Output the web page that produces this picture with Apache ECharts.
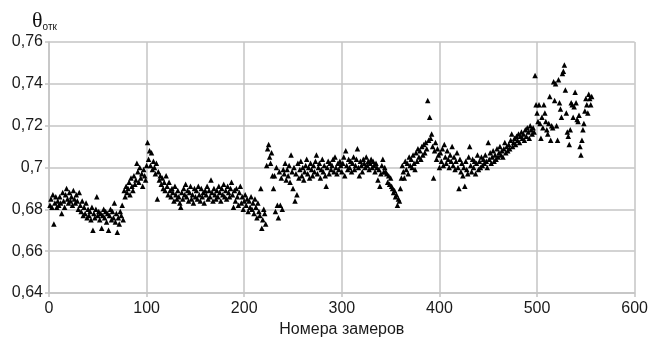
<!DOCTYPE html>
<html>
<head>
<meta charset="utf-8">
<script src="https://cdn.jsdelivr.net/npm/echarts@6/dist/echarts.min.js"></script>
<style>html,body{margin:0;padding:0;background:#fff;}#c{width:651px;height:346px;}</style>
</head>
<body>
<div id="c"></div>
<script>
// θотк values, measurement number = index + 1
var theta001_100 = [
  0.682,0.685,0.681,0.687,0.673,0.683,0.686,0.681,0.684,0.682,
  0.686,0.683,0.678,0.688,0.684,0.681,0.687,0.690,0.685,0.683,
  0.688,0.684,0.686,0.682,0.689,0.685,0.683,0.687,0.684,0.680,
  0.688,0.682,0.679,0.684,0.677,0.681,0.678,0.683,0.676,0.680,
  0.677,0.679,0.675,0.681,0.670,0.678,0.676,0.680,0.686,0.677,
  0.679,0.675,0.678,0.671,0.677,0.680,0.676,0.679,0.674,0.678,
  0.670,0.677,0.680,0.675,0.679,0.676,0.683,0.674,0.678,0.669,
  0.676,0.673,0.679,0.677,0.682,0.675,0.689,0.686,0.691,0.688,
  0.690,0.693,0.687,0.695,0.691,0.689,0.696,0.692,0.694,0.702,
  0.698,0.693,0.700,0.695,0.697,0.691,0.699,0.696,0.694,0.701
];
var theta101_200 = [
  0.712,0.704,0.708,0.701,0.707,0.699,0.703,0.700,0.697,0.702,
  0.685,0.698,0.694,0.696,0.692,0.695,0.690,0.693,0.689,0.696,
  0.691,0.687,0.693,0.689,0.686,0.690,0.688,0.684,0.691,0.687,
  0.685,0.689,0.686,0.683,0.681,0.688,0.685,0.690,0.687,0.692,
  0.686,0.689,0.684,0.688,0.691,0.685,0.687,0.683,0.690,0.686,
  0.689,0.685,0.691,0.687,0.684,0.690,0.686,0.688,0.683,0.689,
  0.687,0.691,0.685,0.689,0.686,0.694,0.688,0.684,0.690,0.687,
  0.685,0.689,0.686,0.691,0.688,0.684,0.690,0.687,0.692,0.686,
  0.689,0.685,0.691,0.688,0.686,0.690,0.693,0.687,0.681,0.689,
  0.684,0.690,0.686,0.682,0.688,0.691,0.683,0.686,0.680,0.684
];
var theta201_300 = [
  0.687,0.682,0.685,0.679,0.684,0.681,0.686,0.680,0.683,0.678,
  0.685,0.681,0.676,0.683,0.679,0.677,0.690,0.671,0.675,0.680,
  0.678,0.673,0.701,0.709,0.711,0.705,0.702,0.707,0.696,0.690,
  0.696,0.679,0.700,0.682,0.676,0.698,0.682,0.695,0.680,0.699,
  0.697,0.702,0.694,0.699,0.696,0.701,0.693,0.706,0.698,0.690,
  0.700,0.684,0.697,0.687,0.702,0.695,0.699,0.703,0.696,0.700,
  0.694,0.698,0.701,0.704,0.697,0.700,0.695,0.702,0.699,0.696,
  0.701,0.698,0.703,0.706,0.697,0.700,0.702,0.695,0.699,0.704,
  0.698,0.701,0.696,0.691,0.700,0.703,0.697,0.702,0.699,0.701,
  0.704,0.698,0.705,0.700,0.697,0.702,0.699,0.703,0.701,0.698
];
var theta301_400 = [
  0.702,0.705,0.696,0.708,0.701,0.699,0.704,0.700,0.703,0.698,
  0.702,0.705,0.699,0.701,0.704,0.709,0.700,0.696,0.703,0.701,
  0.698,0.704,0.702,0.700,0.705,0.701,0.703,0.699,0.702,0.704,
  0.700,0.703,0.701,0.698,0.702,0.700,0.694,0.699,0.691,0.697,
  0.701,0.704,0.698,0.700,0.698,0.697,0.693,0.696,0.692,0.695,
  0.691,0.690,0.688,0.689,0.686,0.687,0.682,0.685,0.684,0.690,
  0.695,0.701,0.698,0.695,0.703,0.699,0.702,0.697,0.705,0.701,
  0.704,0.700,0.706,0.702,0.699,0.707,0.703,0.709,0.705,0.708,
  0.704,0.710,0.706,0.711,0.707,0.712,0.709,0.732,0.713,0.724,
  0.714,0.716,0.710,0.695,0.708,0.712,0.704,0.709,0.706,0.700
];
var theta401_500 = [
  0.707,0.703,0.709,0.701,0.711,0.705,0.702,0.708,0.704,0.700,
  0.706,0.703,0.710,0.701,0.705,0.699,0.703,0.707,0.700,0.690,
  0.704,0.698,0.702,0.696,0.700,0.691,0.703,0.699,0.697,0.705,
  0.710,0.701,0.698,0.704,0.700,0.703,0.697,0.702,0.706,0.699,
  0.703,0.700,0.705,0.701,0.704,0.702,0.706,0.703,0.700,0.712,
  0.704,0.707,0.702,0.705,0.708,0.703,0.706,0.704,0.709,0.705,
  0.707,0.710,0.706,0.708,0.705,0.709,0.712,0.707,0.710,0.708,
  0.711,0.709,0.713,0.716,0.710,0.712,0.714,0.711,0.715,0.713,
  0.716,0.712,0.715,0.717,0.714,0.716,0.713,0.718,0.715,0.719,
  0.717,0.714,0.720,0.718,0.716,0.719,0.717,0.744,0.730,0.726
];
var theta501_556 = [
  0.722,0.730,0.721,0.714,0.724,0.719,0.730,0.726,0.722,0.718,
  0.716,0.721,0.734,0.713,0.720,0.719,0.741,0.732,0.740,0.720,
  0.713,0.742,0.731,0.728,0.724,0.745,0.746,0.749,0.737,0.726,
  0.717,0.715,0.711,0.718,0.731,0.730,0.724,0.729,0.736,0.731,
  0.723,0.722,0.725,0.710,0.706,0.713,0.718,0.721,0.727,0.733,
  0.730,0.726,0.735,0.733,0.730,0.734
];
var xTicks = [0, 100, 200, 300, 400, 500, 600];
var yTicks = [0.64, 0.66, 0.68, 0.70, 0.72, 0.74, 0.76];
var xName = 'Номера замеров';
var yNameMain = 'θ', yNameSub = 'отк';

var all = [].concat(theta001_100, theta101_200, theta201_300, theta301_400, theta401_500, theta501_556);
var pts = all.map(function (v, i) { return [i + 1, v]; });

var FONT = "'Liberation Sans Narrow', 'Liberation Sans', sans-serif";
var chart = echarts.init(document.getElementById('c'), null, {renderer: 'canvas'});
chart.setOption({
  animation: false,
  backgroundColor: '#ffffff',
  title: {
    left: 27, top: 5,
    text: '{t|' + yNameMain + '}{s|' + yNameSub + '}',
    textStyle: {
      fontWeight: 'normal',
      rich: {
        t: {fontFamily: "'Liberation Serif', serif", fontSize: 22, fontWeight: 'normal', color: '#111'},
        s: {fontFamily: FONT, fontSize: 10, fontWeight: 'normal', color: '#111', verticalAlign: 'bottom', padding: [8, 0, 0, 0]}
      }
    }
  },
  grid: {left: 49, right: 14, top: 42, bottom: 53, containLabel: false},
  xAxis: {
    type: 'value', min: xTicks[0], max: xTicks[xTicks.length - 1], interval: 100,
    name: xName, nameLocation: 'middle', nameGap: 28,
    nameTextStyle: {fontFamily: FONT, fontSize: 16, color: '#1a1a1a'},
    axisLine: {show: true, lineStyle: {color: '#c4c4c4', width: 1.5}},
    axisTick: {show: true, length: 4, lineStyle: {color: '#c4c4c4', width: 1.5}},
    axisLabel: {fontFamily: FONT, fontSize: 16, color: '#1a1a1a', margin: 8},
    splitLine: {show: true, lineStyle: {color: '#c4c4c4', width: 1.5}}
  },
  yAxis: {
    type: 'value', min: yTicks[0], max: yTicks[yTicks.length - 1], interval: 0.02,
    axisLine: {show: true, lineStyle: {color: '#c4c4c4', width: 1.5}},
    axisTick: {show: true, length: 4, lineStyle: {color: '#c4c4c4', width: 1.5}},
    axisLabel: {
      fontFamily: FONT, fontSize: 16, color: '#1a1a1a', margin: 6,
      formatter: function (v) { return String(parseFloat(v.toFixed(2))).replace('.', ','); }
    },
    splitLine: {show: true, lineStyle: {color: '#c4c4c4', width: 1.5}}
  },
  series: [{
    type: 'scatter',
    data: pts,
    symbol: 'triangle',
    symbolSize: 5.5,
    itemStyle: {color: '#000000', opacity: 1},
    silent: true
  }]
});
</script>
</body>
</html>
